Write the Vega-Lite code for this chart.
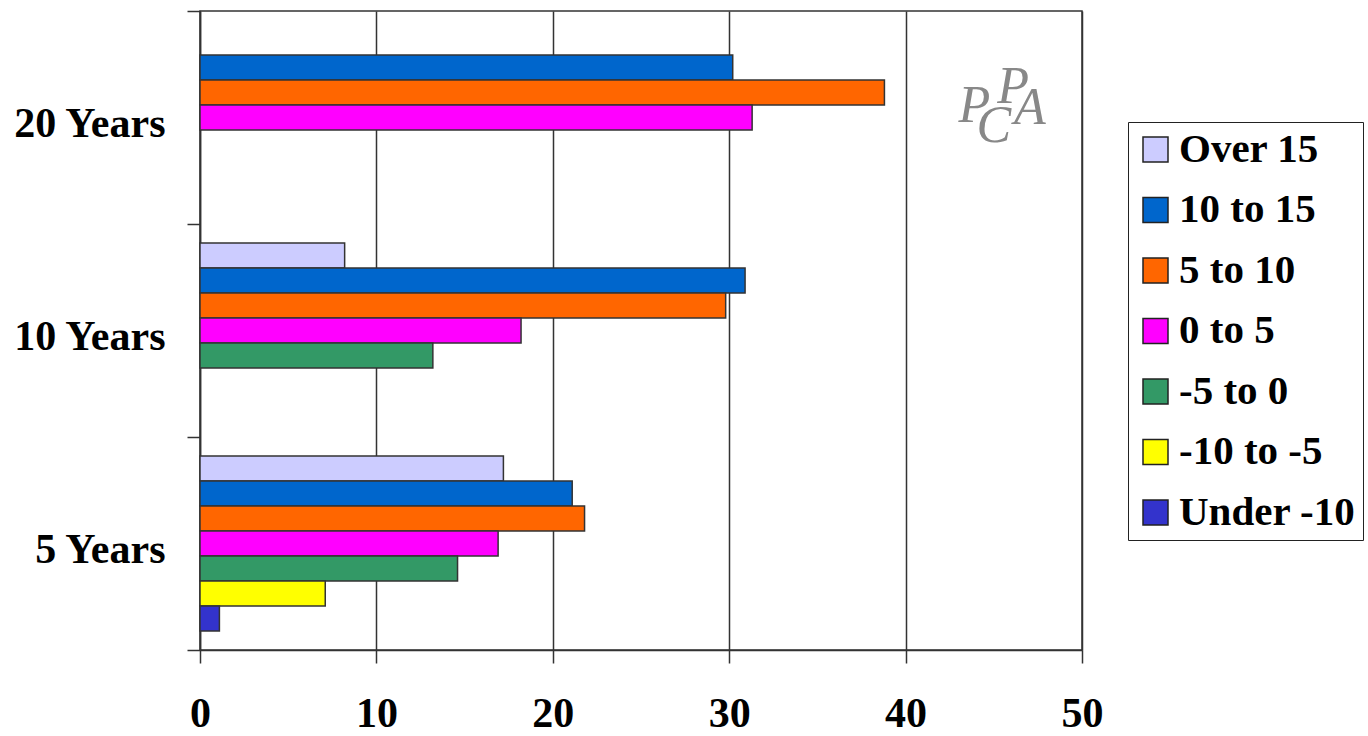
{
  "$schema": "https://vega.github.io/schema/vega-lite/v6.json",
  "autosize": {"type": "none"},
  "width": 882,
  "height": 639,
  "padding": {"left": 200, "top": 11, "right": 286, "bottom": 86},
  "background": "white",
  "config": {
    "view": {"stroke": "#333333", "strokeWidth": 1.5},
    "font": "Liberation Serif"
  },
  "data": {
    "values": [
      {"period": "20 Years", "range": "10 to 15", "value": 30.2},
      {"period": "20 Years", "range": "5 to 10", "value": 38.8},
      {"period": "20 Years", "range": "0 to 5", "value": 31.3},
      {"period": "10 Years", "range": "Over 15", "value": 8.2},
      {"period": "10 Years", "range": "10 to 15", "value": 30.9},
      {"period": "10 Years", "range": "5 to 10", "value": 29.8},
      {"period": "10 Years", "range": "0 to 5", "value": 18.2},
      {"period": "10 Years", "range": "-5 to 0", "value": 13.2},
      {"period": "5 Years", "range": "Over 15", "value": 17.2},
      {"period": "5 Years", "range": "10 to 15", "value": 21.1},
      {"period": "5 Years", "range": "5 to 10", "value": 21.8},
      {"period": "5 Years", "range": "0 to 5", "value": 16.9},
      {"period": "5 Years", "range": "-5 to 0", "value": 14.6},
      {"period": "5 Years", "range": "-10 to -5", "value": 7.1},
      {"period": "5 Years", "range": "Under -10", "value": 1.1}
    ]
  },
  "encoding": {
    "y": {
      "field": "period",
      "type": "nominal",
      "sort": ["20 Years", "10 Years", "5 Years"],
      "scale": {"domain": ["20 Years", "10 Years", "5 Years"], "paddingInner": 0, "paddingOuter": 0},
      "axis": {
        "title": null,
        "tickBand": "extent",
        "tickSize": 13,
        "tickColor": "#333333",
        "tickWidth": 1.5,
        "domainColor": "#333333",
        "domainWidth": 1.5,
        "labelFont": "Liberation Serif",
        "labelFontWeight": "bold",
        "labelFontSize": 42,
        "labelColor": "black",
        "labelPadding": 22,
        "labelOffset": 6,
        "grid": false
      }
    }
  },
  "layer": [
    {
      "mark": {"type": "bar", "stroke": "#333333", "strokeWidth": 1.5},
      "encoding": {
        "x": {
          "field": "value",
          "type": "quantitative",
          "scale": {"domain": [0, 50], "nice": false},
          "axis": {
            "title": null,
            "values": [0, 10, 20, 30, 40, 50],
            "tickSize": 13,
            "tickColor": "#333333",
            "tickWidth": 1.5,
            "domainColor": "#333333",
            "domainWidth": 1.5,
            "grid": true,
            "gridColor": "#333333",
            "gridWidth": 1.5,
            "gridOpacity": 1,
            "labelFont": "Liberation Serif",
            "labelFontWeight": "bold",
            "labelFontSize": 42,
            "labelColor": "black",
            "labelPadding": 30,
            "labelFlush": false
          }
        },
        "yOffset": {
          "field": "range",
          "type": "nominal",
          "scale": {
            "domain": ["Over 15", "10 to 15", "5 to 10", "0 to 5", "-5 to 0", "-10 to -5", "Under -10"],
            "paddingInner": 0,
            "paddingOuter": 0.76
          }
        },
        "color": {
          "field": "range",
          "type": "nominal",
          "scale": {
            "domain": ["Over 15", "10 to 15", "5 to 10", "0 to 5", "-5 to 0", "-10 to -5", "Under -10"],
            "range": ["#CCCCFF", "#0066CC", "#FF6600", "#FF00FF", "#339966", "#FFFF00", "#3333CC"]
          },
          "legend": {
            "title": null,
            "orient": "none",
            "legendX": 928,
            "legendY": 111,
            "direction": "vertical",
            "fillColor": "white",
            "strokeColor": "#222222",
            "padding": 7,
            "symbolType": "square",
            "symbolSize": 625,
            "symbolStrokeColor": "#222222",
            "symbolStrokeWidth": 1.5,
            "symbolOpacity": 1,
            "labelFont": "Liberation Serif",
            "labelFontWeight": "bold",
            "labelFontSize": 41,
            "labelColor": "black",
            "labelLimit": 300,
            "labelOffset": 3,
            "rowPadding": 18.5
          }
        }
      }
    },
    {
      "data": {"values": [{}]},
      "mark": {"type": "text", "font": "Liberation Serif", "fontStyle": "italic", "fontSize": 52, "color": "#888888", "baseline": "middle", "align": "center", "dy": -12},
      "encoding": {"x": {"datum": 43.9, "type": "quantitative"}, "y": {"datum": "20 Years"}, "text": {"value": "P"}}
    },
    {
      "data": {"values": [{}]},
      "mark": {"type": "text", "font": "Liberation Serif", "fontStyle": "italic", "fontSize": 52, "color": "#888888", "baseline": "middle", "align": "center", "dy": -31},
      "encoding": {"x": {"datum": 46.1, "type": "quantitative"}, "y": {"datum": "20 Years"}, "text": {"value": "P"}}
    },
    {
      "data": {"values": [{}]},
      "mark": {"type": "text", "font": "Liberation Serif", "fontStyle": "italic", "fontSize": 52, "color": "#888888", "baseline": "middle", "align": "center", "dy": 8},
      "encoding": {"x": {"datum": 45.0, "type": "quantitative"}, "y": {"datum": "20 Years"}, "text": {"value": "C"}}
    },
    {
      "data": {"values": [{}]},
      "mark": {"type": "text", "font": "Liberation Serif", "fontStyle": "italic", "fontSize": 52, "color": "#888888", "baseline": "middle", "align": "center", "dy": -10},
      "encoding": {"x": {"datum": 47.05, "type": "quantitative"}, "y": {"datum": "20 Years"}, "text": {"value": "A"}}
    }
  ]
}
